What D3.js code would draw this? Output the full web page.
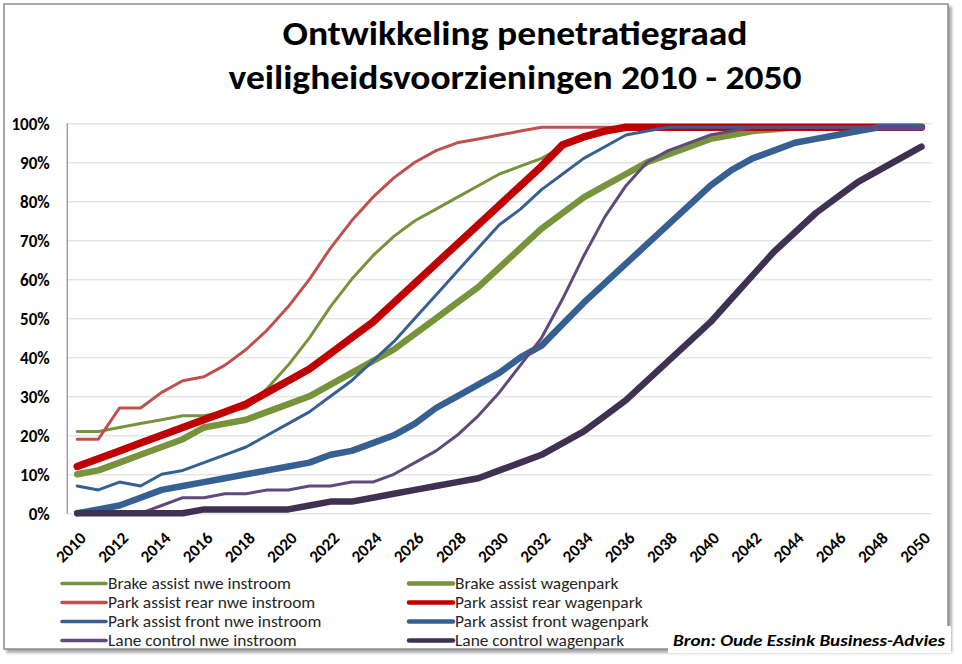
<!DOCTYPE html>
<html>
<head>
<meta charset="utf-8">
<script src="https://cdn.jsdelivr.net/npm/d3@7"></script>
<style>
  body { margin: 0; background: #fff; }
  svg text { font-family: Carlito, Calibri, "Liberation Sans Narrow", "Open Sans", sans-serif; }
</style>
</head>
<body>
<div id="chart"></div>
<script>
// categories (one point per year)
const years = [2010, 2011, 2012, 2013, 2014, 2015, 2016, 2017, 2018, 2019,
               2020, 2021, 2022, 2023, 2024, 2025, 2026, 2027, 2028, 2029,
               2030, 2031, 2032, 2033, 2034, 2035, 2036, 2037, 2038, 2039,
               2040, 2041, 2042, 2043, 2044, 2045, 2046, 2047, 2048, 2049, 2050];
const yearTickLabels = [2010, 2012, 2014, 2016, 2018, 2020, 2022, 2024, 2026, 2028, 2030,
                        2032, 2034, 2036, 2038, 2040, 2042, 2044, 2046, 2048, 2050];
const percentTicks = [0, 0.1, 0.2, 0.3, 0.4, 0.5, 0.6, 0.7, 0.8, 0.9, 1];

// series values in %
const brakeNwe = [21, 21, 22, 23, 24, 25, 25, 26, 27, 32, 38, 45, 53, 60, 66, 71, 75, 78, 81, 84,
                  87, 89, 91, 94, 96, 98, 99, 99, 99, 99, 99, 99, 99, 99, 99, 99, 99, 99, 99, 99, 99];
const brakeWagen = [10, 11, 13, 15, 17, 19, 22, 23, 24, 26, 28, 30, 33, 36, 39, 42, 46, 50, 54, 58,
                    63, 68, 73, 77, 81, 84, 87, 90, 92, 94, 96, 97, 98, 98.5, 99, 99, 99, 99, 99, 99, 99];
const rearNwe = [19, 19, 27, 27, 31, 34, 35, 38, 42, 47, 53, 60, 68, 75, 81, 86, 90, 93, 95, 96,
                 97, 98, 99, 99, 99, 99, 99, 99, 99, 99, 99, 99, 99, 99, 99, 99, 99, 99, 99, 99, 99];
const rearWagen = [12, 14, 16, 18, 20, 22, 24, 26, 28, 31, 34, 37, 41, 45, 49, 54, 59, 64, 69, 74,
                   79, 84, 89, 94.5, 96.5, 98, 99, 99, 99, 99, 99, 99, 99, 99, 99, 99, 99, 99, 99, 99, 99];
const frontNwe = [7, 6, 8, 7, 10, 11, 13, 15, 17, 20, 23, 26, 30, 34, 39, 44, 50, 56, 62, 68,
                  74, 78, 83, 87, 91, 94, 97, 98, 99, 99, 99, 99, 99, 99, 99, 99, 99, 99, 99, 99, 99];
const frontWagen = [0, 1, 2, 4, 6, 7, 8, 9, 10, 11, 12, 13, 15, 16, 18, 20, 23, 27, 30, 33,
                    36, 40, 43, 48.5, 54, 59, 64, 69, 74, 79, 84, 88, 91, 93, 95, 96, 97, 98, 99, 99, 99];
const laneNwe = [0, 0, 0, 0, 2, 4, 4, 5, 5, 6, 6, 7, 7, 8, 8, 10, 13, 16, 20, 25,
                 31, 38, 45, 55, 66, 76, 84, 90, 93, 95, 97, 98, 99, 99, 99, 99, 99, 99, 99, 99, 99];
const laneWagen = [0, 0, 0, 0, 0, 0, 1, 1, 1, 1, 1, 2, 3, 3, 4, 5, 6, 7, 8, 9,
                   11, 13, 15, 18, 21, 25, 29, 34, 39, 44, 49, 55, 61, 67, 72, 77, 81, 85, 88, 91, 94];

// series in drawing order (legend is filled row by row, two columns)
const seriesNames = ["Brake assist nwe instroom", "Brake assist wagenpark",
                     "Park assist rear nwe instroom", "Park assist rear wagenpark",
                     "Park assist front nwe instroom", "Park assist front wagenpark",
                     "Lane control nwe instroom", "Lane control wagenpark"];
const seriesValues = [brakeNwe, brakeWagen, rearNwe, rearWagen, frontNwe, frontWagen, laneNwe, laneWagen];

const titleLines = ["Ontwikkeling penetratiegraad", "veiligheidsvoorzieningen 2010 - 2050"];
const sourceText = "Bron: Oude Essink Business-Advies";

// styling per series
const seriesStyle = {
  "Brake assist nwe instroom":     { color: "#77933c", width: 3 },
  "Brake assist wagenpark":        { color: "#77933c", width: 6.5 },
  "Park assist rear nwe instroom": { color: "#c0504d", width: 3 },
  "Park assist rear wagenpark":    { color: "#c00000", width: 7.5 },
  "Park assist front nwe instroom":{ color: "#376092", width: 3 },
  "Park assist front wagenpark":   { color: "#376092", width: 6.5 },
  "Lane control nwe instroom":     { color: "#604a7b", width: 3 },
  "Lane control wagenpark":        { color: "#403152", width: 6.5 }
};

class LineChart {
  constructor(_config) {
    this.config = {
      parentElement: _config.parentElement,
      containerWidth: _config.containerWidth || 962,
      containerHeight: _config.containerHeight || 664,
      margin: _config.margin || { top: 123.3, right: 30, bottom: 150.7, left: 66.7 }
    };
    this.series = seriesNames.map((name, i) => ({
      name: name,
      values: years.map((y, j) => ({ year: y, value: seriesValues[i][j] / 100 }))
    }));
    this.initVis();
  }

  initVis() {
    let vis = this;
    const m = vis.config.margin;
    vis.width = vis.config.containerWidth - m.left - m.right;
    vis.height = vis.config.containerHeight - m.top - m.bottom;

    vis.svg = d3.select(vis.config.parentElement).append("svg")
      .attr("width", vis.config.containerWidth)
      .attr("height", vis.config.containerHeight);

    // frame with a soft shadow
    const defs = vis.svg.append("defs");
    defs.append("filter").attr("id", "shadow")
      .attr("x", "-5%").attr("y", "-5%").attr("width", "110%").attr("height", "110%")
      .append("feDropShadow")
      .attr("dx", 3).attr("dy", 3).attr("stdDeviation", 1.5)
      .attr("flood-color", "#7f7f7f").attr("flood-opacity", 0.7);

    vis.svg.append("rect")
      .attr("x", 4).attr("y", 4).attr("width", 944).attr("height", 645)
      .attr("fill", "#fff").attr("stroke", "#8c8c8c").attr("stroke-width", 1.5)
      .attr("filter", "url(#shadow)");

    // title
    vis.svg.selectAll("text.title").data(titleLines).join("text")
      .attr("class", "title")
      .attr("x", 515).attr("y", (d, i) => 45 + i * 44)
      .attr("text-anchor", "middle")
      .style("font-size", "35px").style("font-weight", "bold")
      .text(d => d);
    vis.fitWidth(vis.svg.selectAll("text.title"), [465, 573]);

    vis.chartArea = vis.svg.append("g")
      .attr("transform", `translate(${m.left},${m.top})`);

    vis.xScale = d3.scaleBand().domain(years).range([0, vis.width]).padding(0);
    vis.yScale = d3.scaleLinear().domain([0, 1]).range([vis.height, 0]);

    vis.yAxis = vis.chartArea.append("g").attr("class", "y-axis");
    vis.xAxis = vis.chartArea.append("g").attr("class", "x-axis")
      .attr("transform", `translate(0,${vis.height})`);

    vis.renderYAxis();
    vis.renderXAxis();
    vis.renderVis();
    vis.renderLegend();
    vis.renderSource();
  }

  // squeeze text to the width it has in the picture
  fitWidth(sel, widths) {
    sel.each(function (d, i) {
      d3.select(this).attr("textLength", widths[i]).attr("lengthAdjust", "spacingAndGlyphs");
    });
  }

  renderYAxis() {
    const vis = this;
    const axis = d3.axisLeft(vis.yScale)
      .tickValues(percentTicks)
      .tickFormat(d3.format(".0%"))
      .tickSize(-vis.width)
      .tickPadding(17);
    vis.yAxis.call(axis);
    vis.yAxis.select(".domain").remove();
    vis.yAxis.selectAll(".tick line").attr("stroke", "#d9d9d9");
    vis.yAxis.selectAll(".tick text")
      .attr("fill", "#000")
      .style("font-size", "17px").style("font-weight", "bold")
      .attr("dy", "0.35em");

    // vertical axis line
    vis.chartArea.append("line")
      .attr("x1", 0.5).attr("x2", 0.5)
      .attr("y1", 0).attr("y2", vis.height)
      .attr("stroke", "#8064a2").attr("stroke-width", 1);
  }

  renderXAxis() {
    const vis = this;
    const axis = d3.axisBottom(vis.xScale).tickValues(yearTickLabels).tickSize(0);
    vis.xAxis.call(axis);
    vis.xAxis.select(".domain").remove();
    vis.xAxis.selectAll(".tick text")
      .attr("x", 0).attr("y", 0).attr("dy", null)
      .attr("text-anchor", "end")
      .attr("dominant-baseline", "central")
      .attr("transform", "translate(6,22) rotate(-45)")
      .attr("fill", "#000")
      .style("font-size", "17px").style("font-weight", "bold");
  }

  renderVis() {
    const vis = this;
    const line = d3.line()
      .x(d => vis.xScale(d.year) + vis.xScale.bandwidth() / 2)
      .y(d => vis.yScale(d.value));

    vis.chartArea.selectAll("path.series").data(vis.series, d => d.name).join("path")
      .attr("class", "series")
      .attr("fill", "none")
      .attr("stroke", d => seriesStyle[d.name].color)
      .attr("stroke-width", d => seriesStyle[d.name].width)
      .attr("stroke-linejoin", "round")
      .attr("stroke-linecap", "round")
      .attr("d", d => line(d.values));
  }

  renderLegend() {
    const vis = this;
    const colX = [62, 409];
    const rowY = [583.5, 602.5, 621.5, 640.5];
    const legend = vis.svg.append("g").attr("class", "legend");

    const item = legend.selectAll("g.legend-item").data(seriesNames).join("g")
      .attr("class", "legend-item")
      .attr("transform", (d, i) => `translate(${colX[i % 2]},${rowY[Math.floor(i / 2)]})`);

    item.append("line")
      .attr("x1", 0).attr("x2", 44)
      .attr("stroke", d => seriesStyle[d].color)
      .attr("stroke-width", d => seriesStyle[d].width > 4 ? 4.5 : 3.5)
      .attr("stroke-linecap", "round");

    const labels = item.append("text")
      .attr("x", 46).attr("dy", "0.35em")
      .attr("fill", "#262626")
      .style("font-size", "16px")
      .text(d => d);

    // first label is 183px wide in the picture; scale all labels the same way
    const first = labels.node().getComputedTextLength();
    const k = 183 / first;
    labels.each(function () {
      const t = d3.select(this);
      t.attr("textLength", this.getComputedTextLength() * k).attr("lengthAdjust", "spacingAndGlyphs");
    });
  }

  renderSource() {
    const vis = this;
    vis.svg.append("rect")
      .attr("x", 668).attr("y", 626).attr("width", 283).attr("height", 27)
      .attr("fill", "#fff");
    const t = vis.svg.append("text")
      .attr("x", 945).attr("y", 646)
      .attr("text-anchor", "end")
      .attr("fill", "#000")
      .style("font-size", "17px").style("font-weight", "bold").style("font-style", "italic")
      .text(sourceText);
    vis.fitWidth(t, [272]);
  }
}

const chart = new LineChart({ parentElement: "#chart" });
</script>
</body>
</html>
